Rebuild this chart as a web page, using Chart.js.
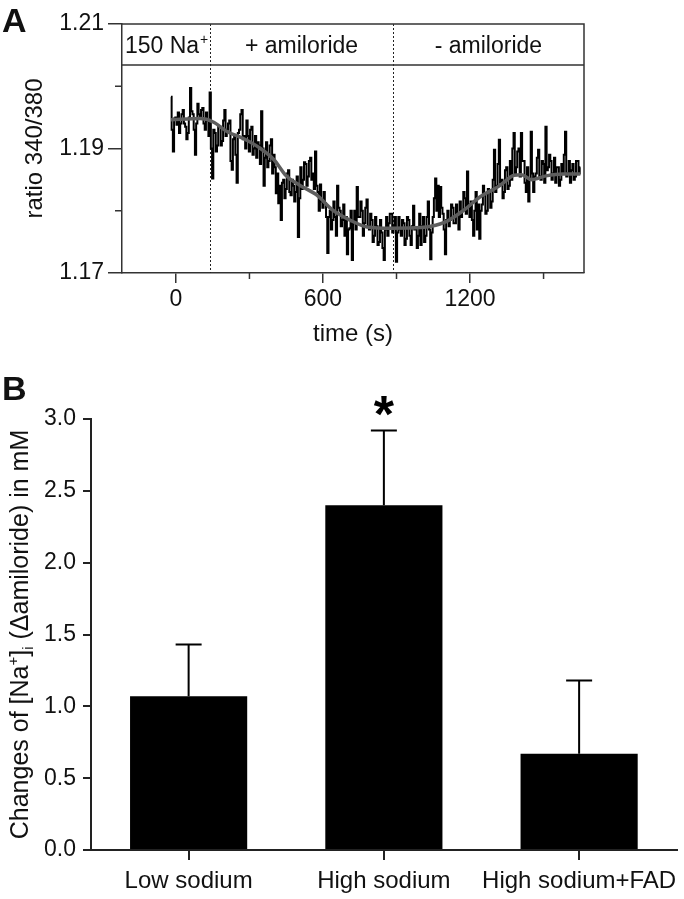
<!DOCTYPE html>
<html>
<head>
<meta charset="utf-8">
<script src="https://cdn.jsdelivr.net/npm/chart.js@4"></script>
<style>
  html, body { margin: 0; padding: 0; background: #fff; }
  #wrap { position: relative; width: 684px; height: 899px; }
  #chartA { position: absolute; left: 0; top: 0; }
  #chartB { position: absolute; left: 0; top: 350px; }
</style>
</head>
<body>
<div id="wrap">
  <canvas id="chartA" width="684" height="350"></canvas>
  <canvas id="chartB" width="684" height="549"></canvas>
</div>
<script>
// --- DATA: panel A (ratio trace) ---
const traceTimeStart = -20; // s, first sample
const traceStep = 5;        // s, sampling interval
const traceValues = [
  1.1983, 1.1930, 1.1895, 1.1948, 1.1950, 1.1938, 1.1958, 1.1925, 1.1940, 1.1955,
  1.1962, 1.1940, 1.1935, 1.1915, 1.1925, 1.1950, 1.1997, 1.1960, 1.1955, 1.1930,
  1.1890, 1.1940, 1.1972, 1.1955, 1.1950, 1.1962, 1.1965, 1.1940, 1.1930, 1.1958,
  1.1945, 1.1920, 1.1990, 1.1900, 1.1852, 1.1930, 1.1925, 1.1895, 1.1905, 1.1935,
  1.1935, 1.1905, 1.1912, 1.1945, 1.1962, 1.1920, 1.1930, 1.1940, 1.1945, 1.1880,
  1.1866, 1.1915, 1.1920, 1.1890, 1.1845, 1.1925, 1.1930, 1.1955, 1.1962, 1.1915,
  1.1920, 1.1900, 1.1945, 1.1920, 1.1895, 1.1930, 1.1935, 1.1890, 1.1900, 1.1920,
  1.1885, 1.1910, 1.1905, 1.1875, 1.1960, 1.1900, 1.1840, 1.1885, 1.1910, 1.1870,
  1.1880, 1.1905, 1.1915, 1.1860, 1.1890, 1.1870, 1.1828, 1.1860, 1.1812, 1.1840,
  1.1785, 1.1845, 1.1850, 1.1820, 1.1835, 1.1860, 1.1865, 1.1830, 1.1825, 1.1850,
  1.1840, 1.1815, 1.1830, 1.1855, 1.1758, 1.1820, 1.1870, 1.1835, 1.1850, 1.1878,
  1.1875, 1.1840, 1.1855, 1.1880, 1.1885, 1.1850, 1.1860, 1.1835, 1.1895, 1.1840,
  1.1830, 1.1800, 1.1842, 1.1815, 1.1805, 1.1830, 1.1812, 1.1790, 1.1732, 1.1790,
  1.1800, 1.1770, 1.1785, 1.1815, 1.1790, 1.1760, 1.1840, 1.1805, 1.1800, 1.1775,
  1.1785, 1.1810, 1.1760, 1.1790, 1.1730, 1.1770, 1.1772, 1.1800, 1.1721, 1.1780,
  1.1800, 1.1770, 1.1838, 1.1790, 1.1790, 1.1815, 1.1800, 1.1760, 1.1780, 1.1805,
  1.1818, 1.1775, 1.1770, 1.1795, 1.1785, 1.1750, 1.1760, 1.1790, 1.1775, 1.1745,
  1.1750, 1.1785, 1.1765, 1.1740, 1.1721, 1.1770, 1.1790, 1.1760, 1.1780, 1.1795,
  1.1795, 1.1765, 1.1775, 1.1790, 1.1718, 1.1765, 1.1790, 1.1770, 1.1760, 1.1785,
  1.1780, 1.1745, 1.1755, 1.1790, 1.1785, 1.1760, 1.1745, 1.1775, 1.1808, 1.1770,
  1.1770, 1.1740, 1.1760, 1.1795, 1.1745, 1.1775, 1.1790, 1.1750, 1.1760, 1.1790,
  1.1815, 1.1770, 1.1722, 1.1765, 1.1790, 1.1820, 1.1852, 1.1800, 1.1840, 1.1790,
  1.1838, 1.1805, 1.1795, 1.1770, 1.1730, 1.1785, 1.1800, 1.1775, 1.1785, 1.1810,
  1.1805, 1.1780, 1.1780, 1.1810, 1.1795, 1.1770, 1.1815, 1.1790, 1.1800, 1.1830,
  1.1820, 1.1795, 1.1863, 1.1810, 1.1790, 1.1815, 1.1785, 1.1760, 1.1800, 1.1830,
  1.1770, 1.1810, 1.1755, 1.1800, 1.1810, 1.1840, 1.1825, 1.1795, 1.1800, 1.1835,
  1.1830, 1.1805, 1.1815, 1.1850, 1.1898, 1.1830, 1.1840, 1.1875, 1.1914, 1.1845,
  1.1850, 1.1820, 1.1830, 1.1865, 1.1870, 1.1835, 1.1840, 1.1880, 1.1850, 1.1900,
  1.1925, 1.1860, 1.1870, 1.1895, 1.1900, 1.1855, 1.1925, 1.1880, 1.1880, 1.1845,
  1.1830, 1.1870, 1.1815, 1.1850, 1.1927, 1.1860, 1.1830, 1.1855, 1.1860, 1.1885,
  1.1898, 1.1855, 1.1850, 1.1880, 1.1875, 1.1845, 1.1935, 1.1865, 1.1870, 1.1890,
  1.1880, 1.1850, 1.1860, 1.1885, 1.1845, 1.1870, 1.1870, 1.1840, 1.1850, 1.1875,
  1.1860, 1.1890, 1.1927, 1.1855, 1.1860, 1.1880, 1.1845, 1.1865, 1.1875, 1.1850,
  1.1855, 1.1880, 1.1880, 1.1860, 1.1870
];
const fitTimes = [-20, 100, 150, 210, 275, 345, 400, 450, 505, 575, 640, 710, 780, 880,
  1000, 1040, 1105, 1175, 1240, 1320, 1380, 1410, 1450, 1510, 1580, 1650];
const fitValues = [1.1946, 1.1948, 1.1943, 1.1927, 1.1916, 1.1900, 1.1882, 1.1856, 1.1841,
  1.1825, 1.1801, 1.1785, 1.1774, 1.1772, 1.1773, 1.1775, 1.1783, 1.1801, 1.1822, 1.1840,
  1.1857, 1.1858, 1.1850, 1.1856, 1.1859, 1.1859];
const eventTimes = [140, 885]; // solution changes
const phaseLabels = ["150 Na", "+ amiloride", "- amiloride"];
const xMajorA = [0, 600, 1200];
const xMinorA = [300, 900, 1500];
const yMajorA = [1.17, 1.19, 1.21];
const yMinorA = [1.18, 1.20];

// --- DATA: panel B (bars) ---
const groupLabels = ["Low sodium", "High sodium", "High sodium+FAD"];
const meanValues = [1.07, 2.40, 0.67];
const semValues = [0.36, 0.52, 0.51];
const significant = [false, true, false];

const FONT = '"Liberation Sans", Arial, Helvetica, sans-serif';
const INK = "#111";

// --- PANEL A ---
const headerValue = 1.2034; // lower edge of the solution header band

const panelAPlugin = {
  id: "panelA",
  beforeDatasetsDraw(chart) {
    const { ctx, chartArea: a, scales: { x } } = chart;
    ctx.save();
    ctx.strokeStyle = "#222";
    ctx.lineWidth = 1;
    ctx.setLineDash([2, 2]);
    eventTimes.forEach(t => {
      const px = Math.round(x.getPixelForValue(t)) + 0.5;
      ctx.beginPath();
      ctx.moveTo(px, a.top);
      ctx.lineTo(px, a.bottom);
      ctx.stroke();
    });
    ctx.restore();
  },
  afterDraw(chart) {
    const { ctx, chartArea: a, scales: { x, y } } = chart;
    ctx.save();
    // box top/right + header band line
    ctx.strokeStyle = "#333";
    ctx.lineWidth = 1.5;
    const hy = y.getPixelForValue(headerValue);
    ctx.beginPath();
    ctx.moveTo(a.left, a.top); ctx.lineTo(a.right, a.top); ctx.lineTo(a.right, a.bottom);
    ctx.moveTo(a.left, hy); ctx.lineTo(a.right, hy);
    ctx.stroke();
    // minor ticks
    xMinorA.forEach(t => {
      const px = x.getPixelForValue(t);
      ctx.beginPath(); ctx.moveTo(px, a.bottom); ctx.lineTo(px, a.bottom + 6); ctx.stroke();
    });
    yMinorA.forEach(v => {
      const py = y.getPixelForValue(v);
      ctx.beginPath(); ctx.moveTo(a.left - 7, py); ctx.lineTo(a.left, py); ctx.stroke();
    });
    // header labels
    const edges = [a.left, x.getPixelForValue(eventTimes[0]), x.getPixelForValue(eventTimes[1]), a.right];
    const cy = (a.top + hy) / 2 + 8;
    ctx.fillStyle = INK;
    ctx.textBaseline = "alphabetic";
    phaseLabels.forEach((txt, i) => {
      const cx = (edges[i] + edges[i + 1]) / 2;
      ctx.font = "23px " + FONT;
      const w = ctx.measureText(txt).width;
      let sup = "", sw = 0;
      if (i === 0) {
        sup = "+";
        ctx.font = "14px " + FONT;
        sw = ctx.measureText(sup).width;
      }
      const x0 = cx - (w + sw) / 2;
      ctx.font = "23px " + FONT;
      ctx.textAlign = "left";
      ctx.fillText(txt, x0, cy);
      if (sup) {
        ctx.font = "14px " + FONT;
        ctx.fillText(sup, x0 + w + 1, cy - 9);
      }
    });
    // panel letter
    ctx.font = "bold 34px " + FONT;
    ctx.textAlign = "left";
    ctx.fillText("A", 2, 32);
    ctx.restore();
  }
};

new Chart(document.getElementById("chartA"), {
  type: "line",
  data: {
    datasets: [
      {
        data: fitTimes.map((t, i) => ({ x: t, y: fitValues[i] })),
        borderColor: "#5e5e5e",
        borderWidth: 3.5,
        pointRadius: 0,
        cubicInterpolationMode: "monotone"
      },
      {
        data: traceValues.map((v, i) => ({ x: traceTimeStart + i * traceStep, y: v })),
        borderColor: "#000",
        borderWidth: 2,
        pointRadius: 0,
        stepped: "middle"
      }
    ]
  },
  options: {
    responsive: false,
    animation: false,
    layout: { padding: { left: 0, right: 100, top: 24, bottom: 0 } },
    plugins: { legend: { display: false }, tooltip: { enabled: false } },
    scales: {
      x: {
        type: "linear",
        min: -220,
        max: 1665,
        afterBuildTicks: s => { s.ticks = xMajorA.map(v => ({ value: v })); },
        afterFit: s => { s.height = 77; },
        ticks: { autoSkip: false, maxRotation: 0, padding: 3, color: INK, font: { family: FONT, size: 23 }, callback: v => String(v) },
        grid: { drawOnChartArea: false, tickLength: 10, color: "#333", lineWidth: 1.5 },
        border: { color: "#333", width: 1.5 },
        title: { display: true, text: "time (s)", color: INK, font: { family: FONT, size: 24 }, padding: { top: 0, bottom: 1 } }
      },
      y: {
        min: 1.17,
        max: 1.21,
        afterBuildTicks: s => { s.ticks = yMajorA.map(v => ({ value: v })); },
        afterFit: s => { s.width = 122; },
        ticks: { autoSkip: false, padding: 4, color: INK, font: { family: FONT, size: 23 }, callback: v => v.toFixed(2) },
        grid: { drawOnChartArea: false, tickLength: 14, color: "#333", lineWidth: 1.5 },
        border: { color: "#333", width: 1.5 },
        title: { display: true, text: "ratio 340/380", color: INK, font: { family: FONT, size: 24 }, padding: { top: 21, bottom: 0 } }
      }
    }
  },
  plugins: [panelAPlugin]
});

// --- PANEL B ---
const panelBPlugin = {
  id: "panelB",
  afterDatasetsDraw(chart) {
    const { ctx, scales: { y } } = chart;
    const meta = chart.getDatasetMeta(0);
    ctx.save();
    ctx.strokeStyle = "#000";
    ctx.fillStyle = "#000";
    ctx.lineWidth = 2;
    meta.data.forEach((bar, i) => {
      const top = y.getPixelForValue(meanValues[i]);
      const errTop = y.getPixelForValue(meanValues[i] + semValues[i]);
      ctx.beginPath();
      ctx.moveTo(bar.x, top); ctx.lineTo(bar.x, errTop);
      ctx.moveTo(bar.x - 13, errTop); ctx.lineTo(bar.x + 13, errTop);
      ctx.stroke();
      if (significant[i]) {
        ctx.font = "bold 52px " + FONT;
        ctx.textAlign = "center";
        ctx.textBaseline = "alphabetic";
        const m = ctx.measureText("*");
        const cy = y.getPixelForValue(3.09);
        ctx.fillText("*", bar.x, cy + (m.actualBoundingBoxAscent - m.actualBoundingBoxDescent) / 2);
      }
    });
    ctx.restore();
  },
  afterDraw(chart) {
    const { ctx, chartArea: a } = chart;
    ctx.save();
    ctx.fillStyle = INK;
    // y title with super/subscripts
    const parts = [
      { t: "Changes of [Na", size: 25, dy: 0 },
      { t: "+", size: 15, dy: -10 },
      { t: "]", size: 25, dy: 0 },
      { t: "i", size: 15, dy: 5 },
      { t: " (\u0394amiloride) in mM", size: 25, dy: 0 }
    ];
    let total = 0;
    parts.forEach(p => { ctx.font = p.size + "px " + FONT; p.w = ctx.measureText(p.t).width; total += p.w; });
    ctx.translate(28, (a.top + a.bottom) / 2);
    ctx.rotate(-Math.PI / 2);
    ctx.textAlign = "left";
    ctx.textBaseline = "alphabetic";
    let cx = -total / 2;
    parts.forEach(p => {
      ctx.font = p.size + "px " + FONT;
      ctx.fillText(p.t, cx, p.dy);
      cx += p.w;
    });
    ctx.setTransform(1, 0, 0, 1, 0, 0);
    ctx.font = "bold 34px " + FONT;
    ctx.fillText("B", 2, 50);
    ctx.restore();
  }
};

new Chart(document.getElementById("chartB"), {
  type: "bar",
  data: {
    labels: groupLabels,
    datasets: [{
      data: meanValues,
      backgroundColor: "#000",
      barPercentage: 0.6,
      categoryPercentage: 1.0
    }]
  },
  options: {
    responsive: false,
    animation: false,
    layout: { padding: { left: 0, right: 5, top: 69, bottom: 0 } },
    plugins: { legend: { display: false }, tooltip: { enabled: false } },
    scales: {
      x: {
        afterFit: s => { s.height = 49; },
        ticks: { autoSkip: false, padding: 7, color: INK, maxRotation: 0, font: { family: FONT, size: 24 } },
        grid: { offset: false, drawOnChartArea: false, tickLength: 10, color: "#222", lineWidth: 2 },
        border: { color: "#222", width: 2 }
      },
      y: {
        min: 0,
        max: 3,
        afterFit: s => { s.width = 91; },
        ticks: { stepSize: 0.5, padding: 7, color: INK, font: { family: FONT, size: 23 }, callback: v => v.toFixed(1) },
        grid: { drawOnChartArea: false, tickLength: 8, color: "#222", lineWidth: 2 },
        border: { color: "#222", width: 2 }
      }
    }
  },
  plugins: [panelBPlugin]
});
</script>
</body>
</html>
